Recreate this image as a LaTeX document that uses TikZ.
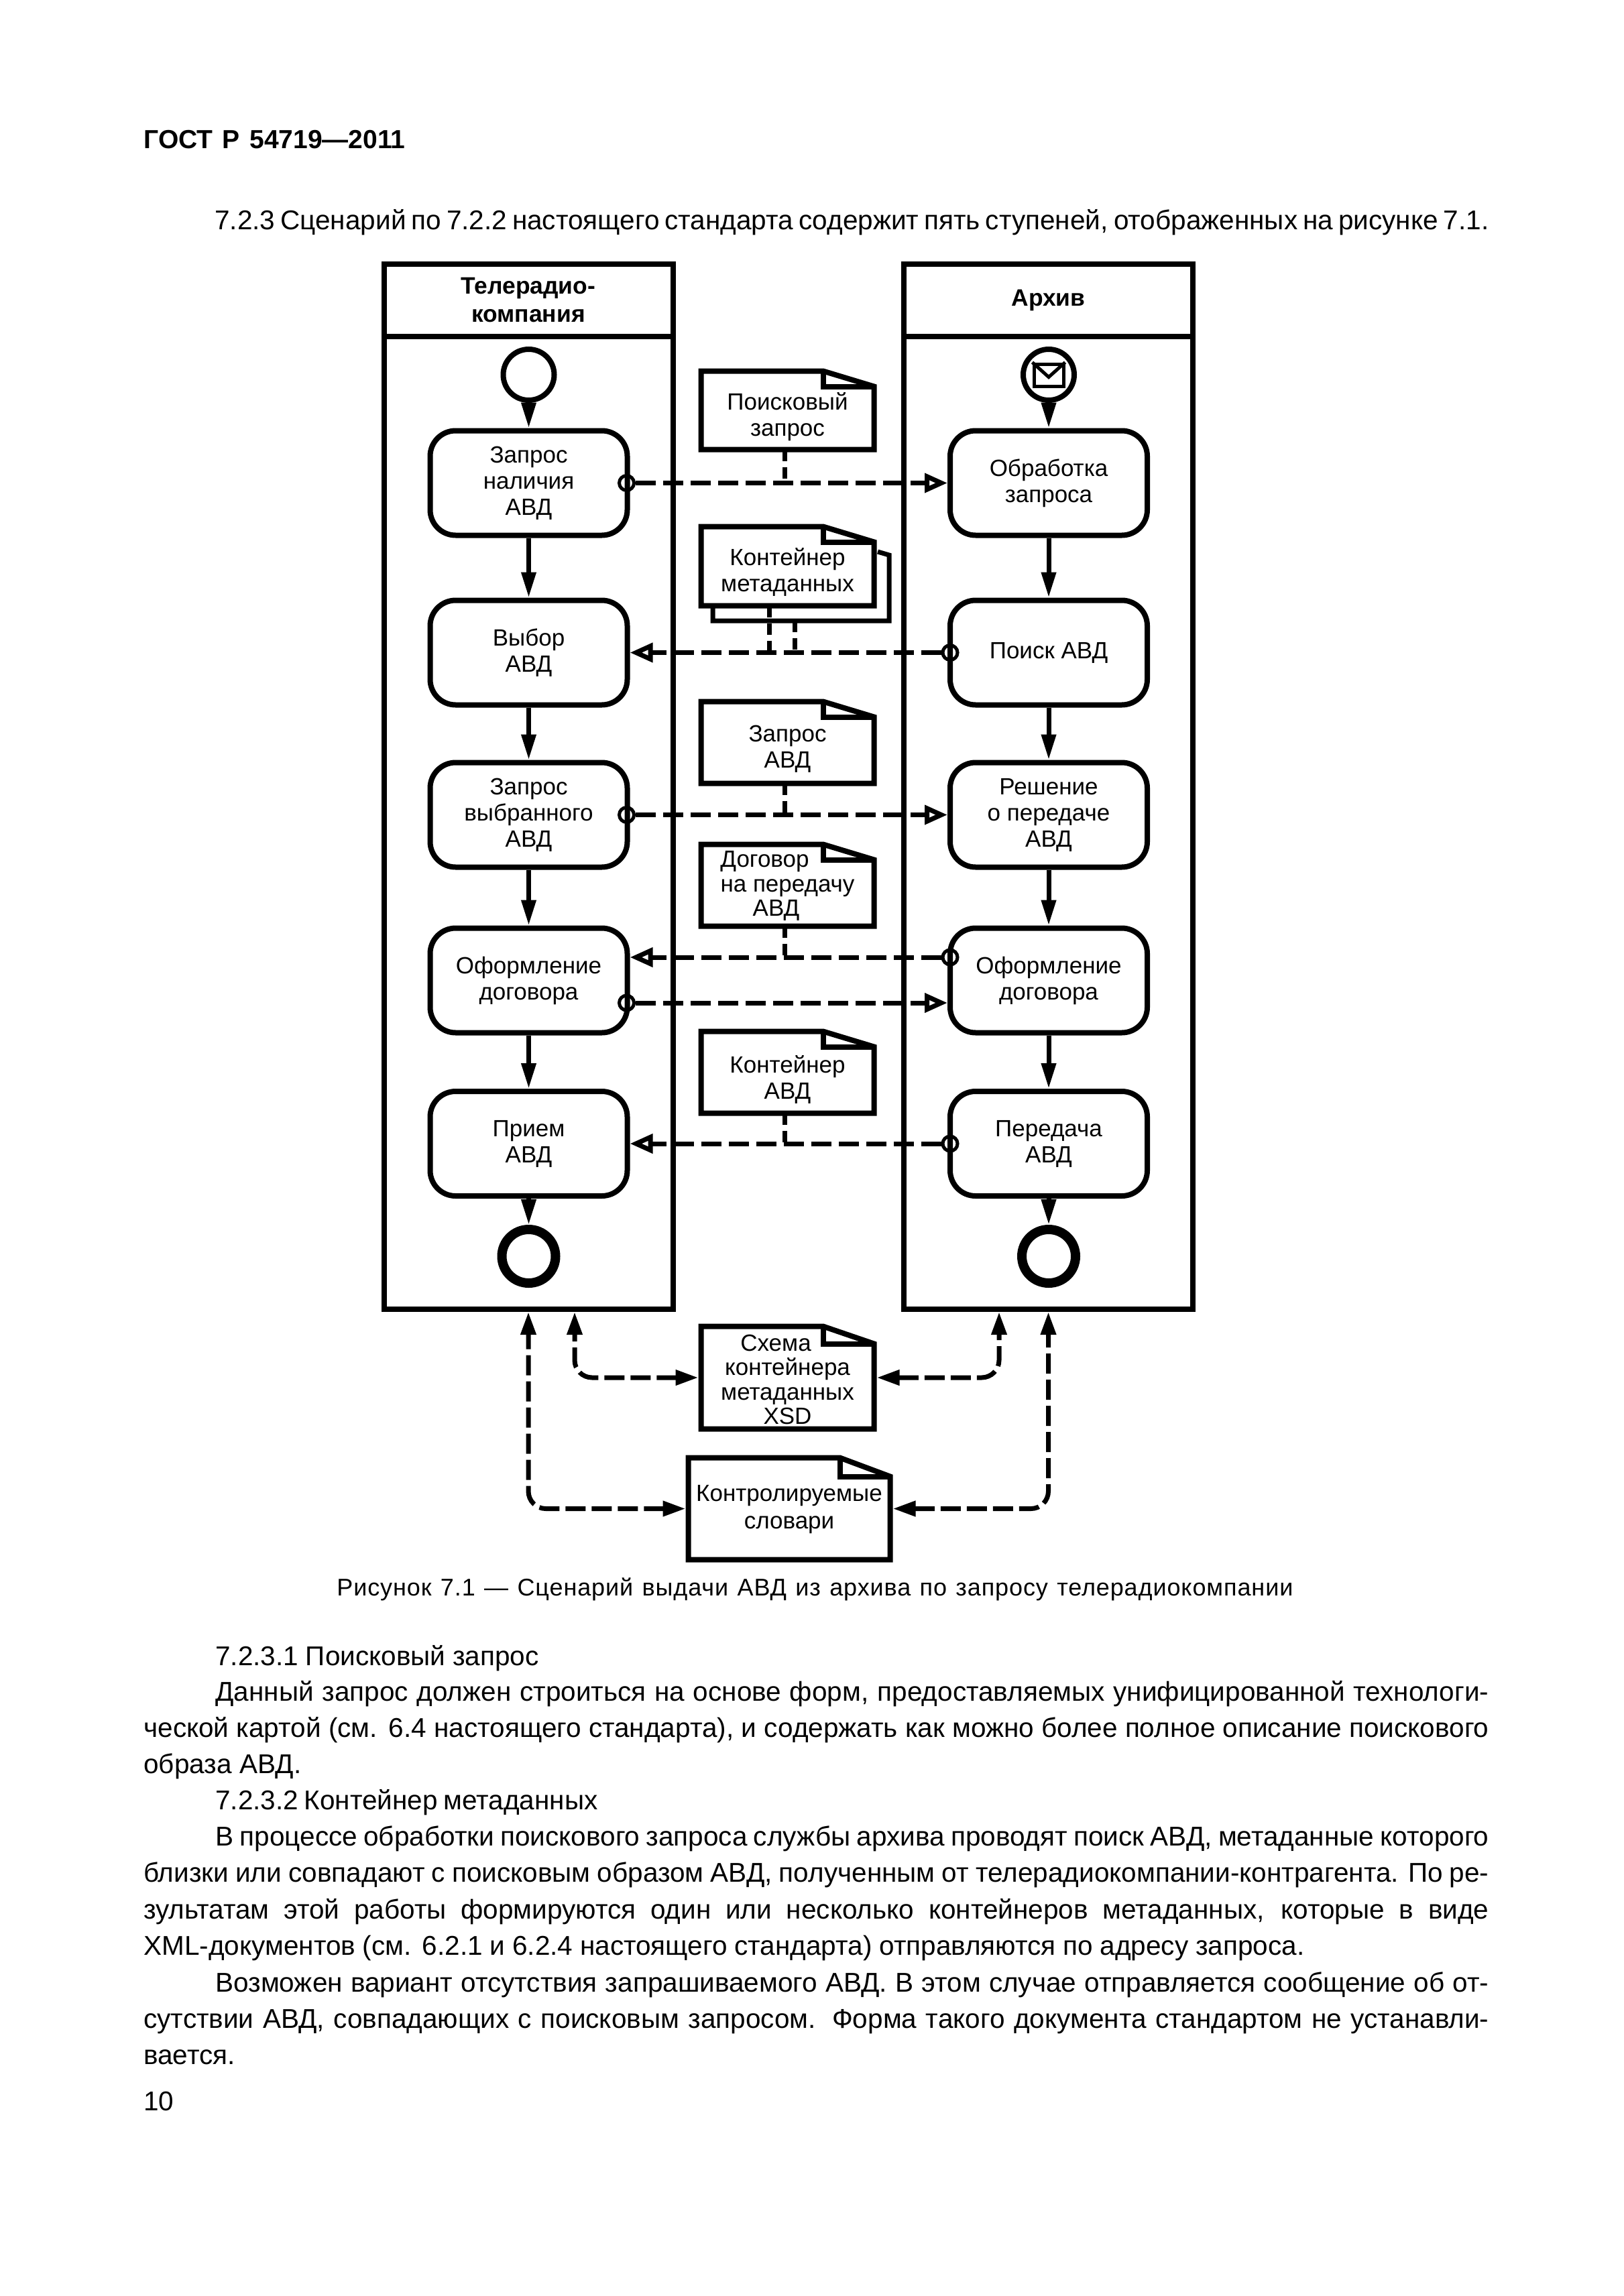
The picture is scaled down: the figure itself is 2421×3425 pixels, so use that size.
\documentclass[tikz,border=0pt]{standalone}
\usepackage{fontspec}
\setmainfont{Liberation Sans}
\usetikzlibrary{arrows.meta,calc}
\newcommand\jl[2]{\hbox to \dimexpr #1pt/2\relax{\spaceskip=0.25em plus 1fil minus 1fil\relax #2}}
\newcommand\docbox[9]{%
  \node[docbg,minimum width=0.5*#4pt,minimum height=0.5*#5pt] (#1) at (#2,#3) {};
  \draw[docline] ($(#1.north east)+(-#6,0)$) -- ($(#1.north east)+(0,#7)$) -- (#1.south east) -- (#1.south west) -- (#1.north west) -- cycle;
  \draw[docline] ($(#1.north east)+(-#6,0)$) -- ($(#1.north east)+(-#6,#7)$) -- ($(#1.north east)+(0,#7)$);
  \node[doctext] (#1t) at ($(#1.center)+(0,#8)$) {#9};
  \coordinate (#1p) at ($(#1.south)+(-4.5,0)$);
}
\tikzset{
  x=0.5pt,y=-0.5pt,
  lane/.style={draw,fill=white,line width=4pt,minimum width=215.5pt,inner sep=0pt},
  lanehead/.style={lane,minimum height=54.25pt,align=center,font=\fontsize{17.7}{21}\selectfont\bfseries},
  task/.style={draw,fill=white,line width=4pt,rounded corners=19pt,minimum width=147pt,minimum height=78pt,inner sep=0pt,align=center,font=\fontsize{17.5}{19.5}\selectfont},
  startev/.style={circle,draw,fill=white,line width=4pt,minimum size=38pt,inner sep=0pt},
  endev/.style={circle,draw,fill=white,line width=7pt,minimum size=40pt,inner sep=0pt},
  gate/.style={circle,draw,line width=2.5pt,minimum size=11pt,inner sep=0pt},
  docbg/.style={fill=white,inner sep=0pt,outer sep=0pt},
  docline/.style={draw,line width=4pt,line join=miter},
  doctext/.style={inner sep=0pt,align=center,font=\fontsize{17.5}{19.5}\selectfont},
  flow/.style={line width=3.5pt,-{Triangle[length=19pt,width=10.5pt]}},
  msg/.style={line width=3.5pt,dash pattern=on 15pt off 5.5pt,-{Triangle[length=17pt,width=14pt,fill=white]}},
  stub/.style={line width=3.5pt,dash pattern=on 8.5pt off 4.5pt},
  dep/.style={line width=3.5pt,dash pattern=on 15pt off 4.5pt,rounded corners=13pt,
    {Triangle[length=17pt,width=11pt]}-{Triangle[length=17pt,width=11pt]},shorten <=2pt},
  body/.style={inner sep=0pt,anchor=base west,font=\fontsize{20.25}{27}\selectfont},
  caption/.style={inner sep=0pt,anchor=base west,font=\fontsize{18}{22}\selectfont\addfontfeature{LetterSpace=2.5}},
  pagehead/.style={inner sep=0pt,anchor=base west,font=\fontsize{19.5}{24}\selectfont\bfseries},
}
\begin{document}
\begin{tikzpicture}
\path[use as bounding box,fill=white] (0,0) rectangle (2421,3425);
% page text above the figure
\node[pagehead] (pghead) at (214,222) {\jl{390}{ГОСТ Р 54719—2011}};
\node[body] (b0) at (320,342) {\jl{1900}{7.2.3 Сценарий по 7.2.2 настоящего стандарта содержит пять ступеней, отображенных на рисунке 7.1.}};
% lanes
\node[lane,minimum height=779.75pt] (lane1) at (788,1173.25) {};
\node[lane,minimum height=779.75pt] (lane2) at (1563.5,1173.25) {};
\node[lanehead] (head1) at (788,447.75) {Телерадио-\\компания};
\node[lanehead] (head2) at (1563.5,447.75) {Архив};
% events
\node[startev] (s1) at (788.5,559) {};
\node[startev] (s2) at (1564,559) {};
\node[draw,line width=2.5pt,minimum width=22pt,minimum height=16.5pt,inner sep=0pt] (env) at (1564,559.5) {};
\draw[line width=2.5pt] (env.north west) -- ($(env.north)+(0,22)$) -- (env.north east);
\node[endev] (e1) at (788.5,1874) {};
\node[endev] (e2) at (1564,1874) {};
% tasks
\node[task] (t1) at (788.5,720.5) {Запрос\\наличия\\АВД};
\node[task] (t2) at (788.5,973.5) {Выбор\\АВД};
\node[task] (t3) at (788.5,1215.5) {Запрос\\выбранного\\АВД};
\node[task] (t4) at (788.5,1462.5) {Оформление\\договора};
\node[task] (t5) at (788.5,1706) {Прием\\АВД};
\node[task] (r1) at (1564,720.5) {Обработка\\запроса};
\node[task] (r2) at (1564,973.5) {Поиск АВД};
\node[task] (r3) at (1564,1215.5) {Решение\\о передаче\\АВД};
\node[task] (r4) at (1564,1462.5) {Оформление\\договора};
\node[task] (r5) at (1564,1706) {Передача\\АВД};
% sequence flows
\draw[flow] (s1) -- (t1);
\draw[flow] (t1) -- (t2);
\draw[flow] (t2) -- (t3);
\draw[flow] (t3) -- (t4);
\draw[flow] (t4) -- (t5);
\draw[flow] (t5) -- (e1);
\draw[flow] (s2) -- (r1);
\draw[flow] (r1) -- (r2);
\draw[flow] (r2) -- (r3);
\draw[flow] (r3) -- (r4);
\draw[flow] (r4) -- (r5);
\draw[flow] (r5) -- (e2);
% documents
\node[docbg,minimum width=131.5pt,minimum height=49pt] (d2b) at (1194.5,877) {};
\draw[line width=3.5pt] ($(d2b.north east)+(-17,-5)$) -- (d2b.north east) -- (d2b.south east) -- (d2b.south west) -- ($(d2b.north west)+(0,70)$);
\docbox{d1}{1174.5}{612}{258}{117}{76}{23}{10}{Поисковый\\запрос}
\docbox{d2}{1174.5}{844.5}{258}{118}{76}{23}{9}{Контейнер\\метаданных}
\docbox{d3}{1174.5}{1107.5}{258}{122}{76}{23}{10}{Запрос\\АВД}
\docbox{d4}{1174.5}{1320.5}{258}{122}{76}{23}{1}{Договор\hspace*{34pt}\\[-1.25pt]на передачу\\[-1.25pt]АВД\hspace*{17pt}}
\docbox{d5}{1174.5}{1599.5}{258}{122}{76}{23}{11}{Контейнер\\АВД}
\docbox{d6}{1174.5}{2055}{258}{153}{76}{26}{3}{Схема\hspace*{17.5pt}\\[-1.25pt]контейнера\hspace*{7.5pt}\\[-1.25pt]метаданных\\[-1.25pt]XSD}
\docbox{d7}{1177}{2250.5}{301}{152}{75}{28}{1}{Контролируемые\\[1pt]словари}
% message markers
\coordinate (t4up) at ($(t4.east)+(0,-34.5)$);
\coordinate (r4up) at ($(r4.west)+(0,-34.5)$);
\coordinate (t4dn) at ($(t4.east)+(0,33.5)$);
\coordinate (r4dn) at ($(r4.west)+(0,33.5)$);
\node[gate] (m1) at ($(t1.east)+(-5,0)$) {};
\node[gate] (m2) at ($(r2.west)+(4,0)$) {};
\node[gate] (m3) at ($(t3.east)+(-5,0)$) {};
\node[gate] (m4) at ($(r4up)+(4,0)$) {};
\node[gate] (m5) at ($(t4dn)+(-5,0)$) {};
\node[gate] (m6) at ($(r5.west)+(4,0)$) {};
% message flows
\draw[msg] (m1) -- (r1.west);
\draw[msg] (m2) -- (t2.east);
\draw[msg] (m3) -- (r3.west);
\draw[msg] (m4) -- (t4up);
\draw[msg] (m5) -- (r4dn);
\draw[msg] (m6) -- (t5.east);
% document stubs
\draw[stub] (d1p) -- (d1p |- m1);
\coordinate (d2a) at ($(d2.south)+(-27.5,0)$);
\coordinate (d2c) at ($(d2b.south)+(-9.5,0)$);
\draw[stub] (d2a) -- (d2a |- m2);
\draw[stub] (d2c) -- (d2c |- m2);
\draw[stub] (d3p) -- (d3p |- m3);
\draw[stub] (d4p) -- (d4p |- m4);
\draw[stub] (d5p) -- (d5p |- m6);
% associations under the lanes
\coordinate (lane1b) at ($(lane1.south)+(69,0)$);
\coordinate (lane2b) at ($(lane2.south)+(-73.5,0)$);
\draw[dep] (d6.west) -| (lane1b);
\draw[dep] (d6.east) -| (lane2b);
\draw[dep] (d7.west) -| (lane1.south);
\draw[dep] (d7.east) -| (lane2.south);
% caption and text below
\node[caption] (cap) at (502,2380) {\jl{1426}{Рисунок 7.1 — Сценарий выдачи АВД из архива по запросу телерадиокомпании}};
\node[body] (b1) at (321,2484) {\jl{482}{7.2.3.1 Поисковый запрос}};
\node[body] (b2) at (321,2537) {\jl{1899}{Данный запрос должен строиться на основе форм, предоставляемых унифицированной технологи-}};
\node[body] (b3) at (214,2591) {\jl{2006}{ческой картой (см. 6.4 настоящего стандарта), и содержать как можно более полное описание поискового}};
\node[body] (b4) at (214,2645) {\jl{235}{образа АВД.}};
\node[body] (b5) at (321,2699) {\jl{570}{7.2.3.2 Контейнер метаданных}};
\node[body] (b6) at (321,2753) {\jl{1899}{В процессе обработки поискового запроса службы архива проводят поиск АВД, метаданные которого}};
\node[body] (b7) at (214,2807) {\jl{2006}{близки или совпадают с поисковым образом АВД, полученным от телерадиокомпании-контрагента. По ре-}};
\node[body] (b8) at (214,2862) {\jl{2006}{зультатам этой работы формируются один или несколько контейнеров метаданных, которые в виде}};
\node[body] (b9) at (214,2916) {\jl{1731}{XML-документов (см. 6.2.1 и 6.2.4 настоящего стандарта) отправляются по адресу запроса.}};
\node[body] (b10) at (321,2971) {\jl{1899}{Возможен вариант отсутствия запрашиваемого АВД. В этом случае отправляется сообщение об от-}};
\node[body] (b11) at (214,3025) {\jl{2006}{сутствии АВД, совпадающих с поисковым запросом. Форма такого документа стандартом не устанавли-}};
\node[body] (b12) at (214,3079) {\jl{137}{вается.}};
\node[body] (pgnum) at (214,3148) {10};
\end{tikzpicture}
\end{document}
